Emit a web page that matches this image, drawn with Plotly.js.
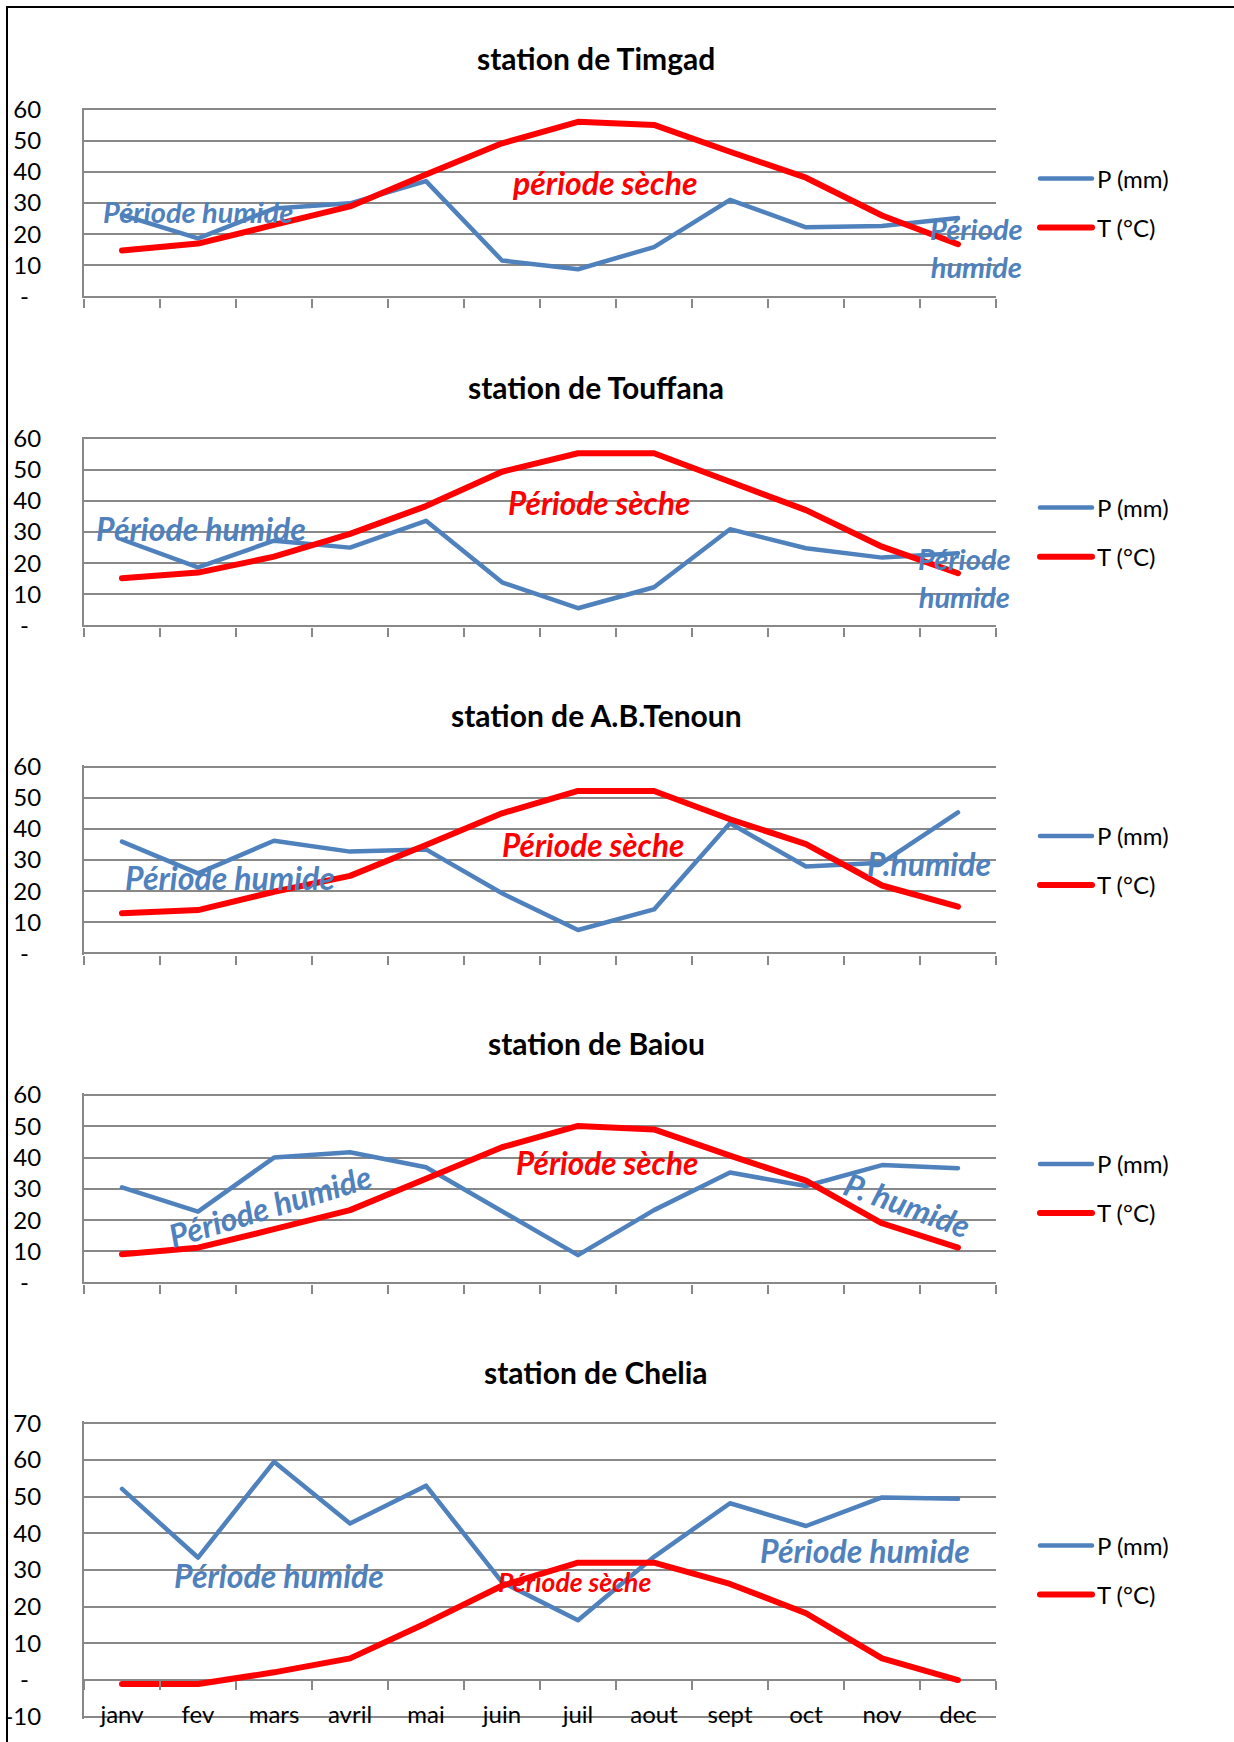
<!DOCTYPE html>
<html><head><meta charset="utf-8">
<script src="https://cdn.plot.ly/plotly-3.0.1.min.js"></script>
<style>
html,body{margin:0;padding:0;background:#fff;}
#wrap{position:relative;width:1234px;height:1742px;overflow:hidden;}
#chart{position:absolute;left:0;top:0;width:1234px;height:1742px;}
#frame{position:absolute;left:6px;top:6px;width:1400px;height:1900px;border-left:2px solid #000;border-top:2px solid #000;pointer-events:none;}
.scatterlayer .js-line, .legendlines path{stroke-linecap:round;stroke-linejoin:round;}
</style></head><body>
<div id="wrap"><div id="chart"></div><div id="frame"></div></div>
<script>
// ---------- data ----------
const months = ["janv","fev","mars","avril","mai","juin","juil","aout","sept","oct","nov","dec"];
const stationNames = ["station de Timgad","station de Touffana","station de A.B.Tenoun","station de Baiou","station de Chelia"];
const seriesNames = ["P (mm)","T (°C)"];

const timgadP   = [26.2, 18.7, 28.2, 29.9, 37.0, 11.6, 8.8, 15.9, 31.0, 22.2, 22.6, 25.2];
const timgadT   = [14.8, 17.0, 23.0, 28.9, 39.1, 49.1, 56.0, 55.0, 46.4, 38.1, 26.0, 16.8];
const touffanaP = [27.6, 18.7, 27.2, 25.0, 33.6, 13.9, 5.6, 12.3, 30.9, 24.8, 21.8, 23.2];
const touffanaT = [15.2, 17.0, 22.1, 29.4, 38.3, 49.3, 55.2, 55.2, 46.1, 37.0, 25.3, 16.8];
const tenounP   = [35.9, 25.7, 36.2, 32.7, 33.4, 19.3, 7.5, 14.1, 41.8, 27.9, 29.1, 45.3];
const tenounT   = [12.9, 13.9, 19.8, 24.9, 34.8, 45.0, 52.2, 52.2, 43.1, 35.1, 21.8, 15.0];
const baiouP    = [30.5, 22.7, 40.0, 41.7, 36.9, 23.0, 8.8, 23.2, 35.2, 30.9, 37.6, 36.6];
const baiouT    = [9.1, 11.2, 17.1, 23.2, 33.2, 43.3, 50.1, 49.0, 40.6, 32.6, 19.0, 11.2];
const cheliaP   = [52.1, 33.4, 59.5, 42.7, 53.0, 26.7, 16.3, 33.6, 48.2, 42.0, 49.8, 49.4];
const cheliaT   = [-1.1, -1.1, 2.1, 5.9, 15.5, 25.7, 32.0, 32.0, 26.2, 18.2, 5.9, 0.0];

const yTicks60 = [0, 10, 20, 30, 40, 50, 60];
const yTickText60 = ["-\u00a0\u00a0", "10", "20", "30", "40", "50", "60"];
const yTicks70 = [-10, 0, 10, 20, 30, 40, 50, 60, 70];
const yTickText70 = ["-10", "-\u00a0\u00a0", "10", "20", "30", "40", "50", "60", "70"];

const pSeries = [timgadP, touffanaP, tenounP, baiouP, cheliaP];
const tSeries = [timgadT, touffanaT, tenounT, baiouT, cheliaT];

// period labels per station
const humideTexts = [
  [{t:"Période humide", x:1.0, y:27.4, s:29, a:0}, {t:"Période<br>humide", x:11.24, y:15.6, s:29, a:0}],
  [{t:"Période humide", x:1.04, y:31.0, s:32, a:0}, {t:"Période<br>humide", x:11.09, y:15.3, s:29, a:0}],
  [{t:"Période humide", x:1.42, y:24.4, s:32, a:0}, {t:"P.humide", x:10.62, y:28.8, s:32, a:0}],
  [{t:"Période humide", x:1.95, y:24.6, s:32, a:-17}, {t:"P. humide", x:10.33, y:25.1, s:32, a:20}],
  [{t:"Période humide", x:2.07, y:28.5, s:32, a:0}, {t:"Période humide", x:9.78, y:35.3, s:32, a:0}]
];
const secheTexts = [
  {t:"période sèche", x:6.36, y:36.5, s:32},
  {t:"Période sèche", x:6.28, y:39.2, s:31.5},
  {t:"Période sèche", x:6.2, y:34.9, s:31.5},
  {t:"Période sèche", x:6.38, y:38.3, s:31.5},
  {t:"Période sèche", x:5.96, y:26.6, s:26.5}
];

// ---------- layout constants (pixels) ----------
const W = 1234, H = 1742;
const plotLeft = 84, plotRight = 996;
const plotTops = [109.3, 438.3, 766.7, 1095.0, 1423.3];
const plotBottoms = [296.7, 625.7, 953.3, 1282.7, 1716.7];
const titleYs = [58, 387, 715, 1043, 1372];
const legendYs = [203.3, 532.5, 860.8, 1188.8, 1570.3];
const zeroLineChelia = 1680;
const RANGE_PAD = 0.5; // keep edge gridlines visible

const BLUE = "#4F81BD", RED = "#FF0000", GRID = "#888888";
const FONT = "Lato, 'Open Sans', 'Liberation Sans', sans-serif";

const py = v => 1 - v / H;
const px = v => v / W;

const traces = [];
const layout = {
  width: W, height: H,
  margin: {l:0, r:0, t:0, b:0},
  paper_bgcolor: "#ffffff",
  plot_bgcolor: "rgba(0,0,0,0)",
  font: {family: FONT, size: 24, color: "#000"},
  showlegend: true,
  annotations: []
};

for (let i = 0; i < 5; i++) {
  const k = i === 0 ? "" : String(i + 1);
  const xa = "x" + k, ya = "y" + k;
  const leg = "legend" + k;
  const isLast = i === 4;
  const yMin = isLast ? -10 : 0, yMax = isLast ? 70 : 60;
  const ppu = (plotBottoms[i] - plotTops[i]) / (yMax - yMin);
  const topPx = plotTops[i] - RANGE_PAD * ppu;
  const botPx = plotBottoms[i] + RANGE_PAD * ppu;

  traces.push({
    type: "scatter", mode: "lines", x: months, y: pSeries[i], name: seriesNames[0],
    xaxis: xa, yaxis: ya, legend: leg, legendgroup: "p" + i,
    line: {color: BLUE, width: 4.5}, hoverinfo: "skip"
  });
  traces.push({
    type: "scatter", mode: "lines", x: months, y: tSeries[i], name: seriesNames[1],
    xaxis: xa, yaxis: ya, legend: leg, legendgroup: "t" + i,
    line: {color: RED, width: 6}, hoverinfo: "skip"
  });

  layout["xaxis" + k] = {
    type: "category", categoryorder: "array", categoryarray: months,
    domain: [px(plotLeft), px(plotRight)],
    range: [-0.5, 11.5],
    anchor: isLast ? "free" : ya,
    position: isLast ? py(zeroLineChelia) : undefined,
    tickson: "boundaries",
    ticks: "outside", ticklen: 9, tickwidth: 2, tickcolor: GRID,
    showgrid: false, zeroline: false,
    showline: false,
    showticklabels: isLast,
    ticklabelstandoff: isLast ? 18 : 0,
    tickfont: {size: 24, color: "#000"},
    fixedrange: true
  };
  layout["yaxis" + k] = {
    domain: [py(botPx), py(topPx)],
    anchor: xa,
    range: [yMin - RANGE_PAD, yMax + RANGE_PAD],
    tickmode: "array",
    tickvals: isLast ? yTicks70 : yTicks60,
    ticktext: isLast ? yTickText70 : yTickText60,
    ticks: "",
    showgrid: true, gridcolor: GRID, gridwidth: 2,
    zeroline: false,
    showline: true, linecolor: GRID, linewidth: 2,
    ticklabelstandoff: 36,
    tickfont: {size: 24, color: "#000"},
    fixedrange: true
  };
  layout[leg] = {
    x: px(1035), xanchor: "left",
    y: py(legendYs[i]), yanchor: "middle",
    bgcolor: "rgba(0,0,0,0)",
    font: {size: 24, color: "#000"},
    itemwidth: 52,
    traceorder: "grouped", tracegroupgap: 15,
    itemclick: false, itemdoubleclick: false
  };

  // station title
  layout.annotations.push({
    xref: "paper", yref: "paper", x: px(596), y: py(titleYs[i]),
    xanchor: "center", yanchor: "middle", showarrow: false,
    text: stationNames[i],
    font: {family: FONT, size: 30, weight: "bold", color: "#000"}
  });
  // humid period labels
  humideTexts[i].forEach(h => {
    layout.annotations.push({
      xref: xa, yref: ya, x: h.x, y: h.y,
      xanchor: "center", yanchor: "middle", showarrow: false,
      text: h.t, textangle: h.a, align: "center",
      font: {family: FONT, size: h.s, weight: "bold", style: "italic", color: BLUE}
    });
  });
  // dry period label
  const s = secheTexts[i];
  layout.annotations.push({
    xref: xa, yref: ya, x: s.x, y: s.y,
    xanchor: "center", yanchor: "middle", showarrow: false,
    text: s.t,
    font: {family: FONT, size: s.s, weight: "bold", style: "italic", color: RED}
  });
}

Plotly.newPlot("chart", traces, layout, {staticPlot: true, displayModeBar: false}).then(gd => {
  // lengthen the legend key lines to the legend item width
  gd.querySelectorAll(".legendlines path").forEach(p => p.setAttribute("d", "M5,0h52"));
});
</script>
</body></html>
